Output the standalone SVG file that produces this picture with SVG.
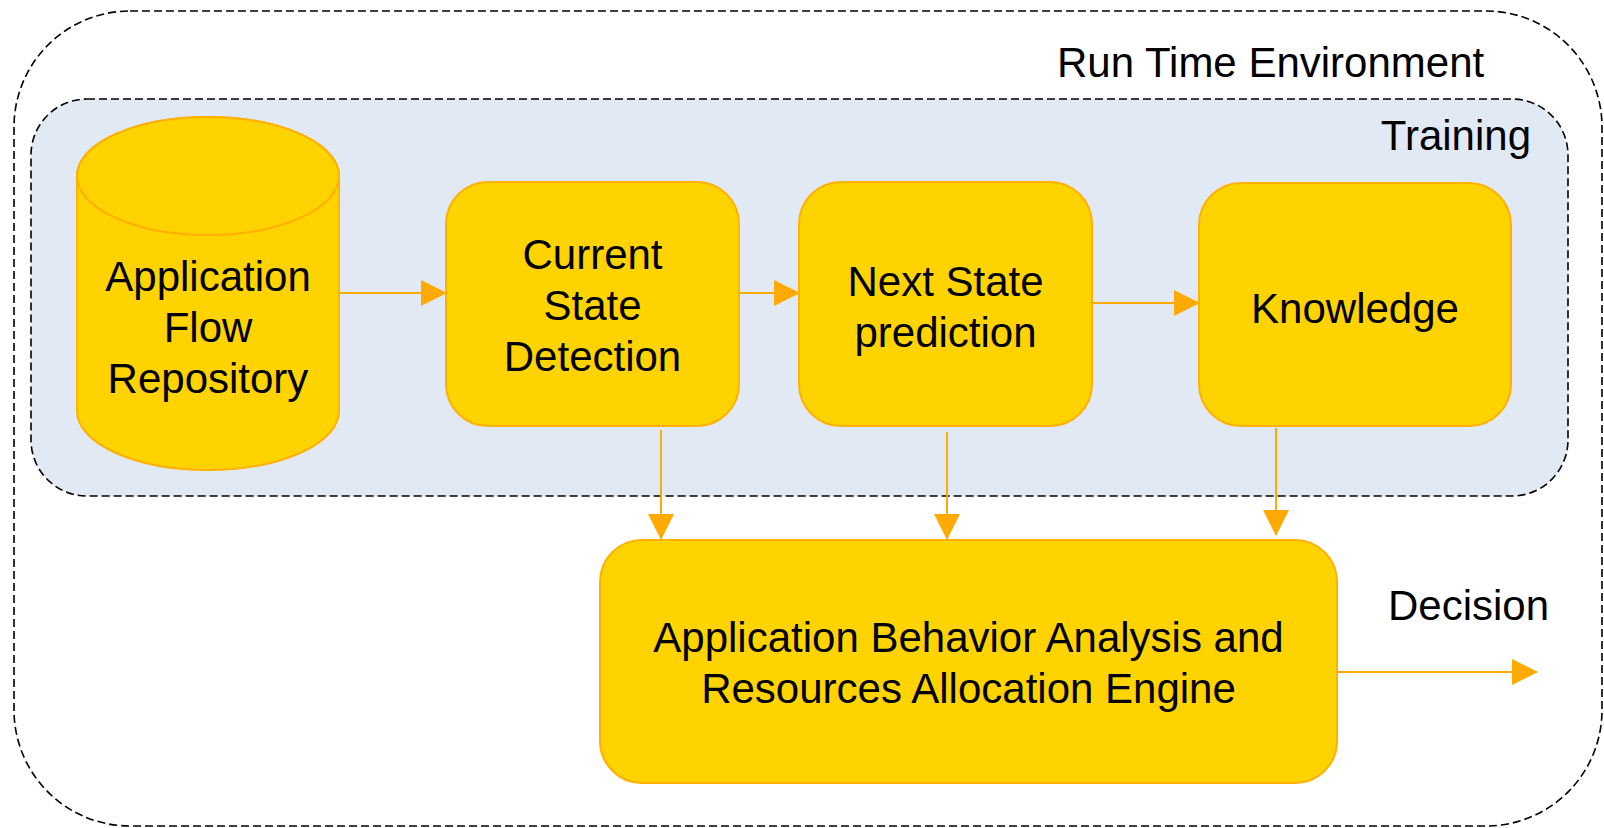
<svg xmlns="http://www.w3.org/2000/svg" width="1604" height="828" viewBox="0 0 1604 828">
  <style>
    .lbl { font-family: "Liberation Sans", Arial, sans-serif; font-size: 42px; fill: #000; }
    .mid { text-anchor: middle; }
    .node { fill: #FFD300; stroke: #FFB000; stroke-width: 2; }
    .frame { fill: none; stroke: #000; stroke-width: 1.6; stroke-dasharray: 8 4; }
    .link { fill: none; stroke: #FFAA00; stroke-width: 2; }
  </style>
  <defs>
    <marker id="arrow" markerUnits="userSpaceOnUse" markerWidth="26" markerHeight="26" viewBox="0 0 26 26" refX="25" refY="13" orient="auto">
      <path d="M0,0 L26,13 L0,26 Z" fill="#FFAA00"/>
    </marker>
  </defs>

  <rect width="1604" height="828" fill="#fff"/>

  <!-- Run time environment container -->
  <g id="runtime">
    <rect class="frame" x="14" y="11" width="1588" height="815" rx="116" ry="116"/>
    <text class="lbl" x="1057" y="77">Run Time Environment</text>
  </g>

  <!-- Training container -->
  <g id="training">
    <rect x="31" y="99" width="1537" height="397" rx="56" ry="56" fill="#E1E9F4" stroke="#000" stroke-width="1.6" stroke-dasharray="8 4"/>
    <text class="lbl" x="1531" y="150" text-anchor="end">Training</text>
  </g>

  <!-- Repository cylinder -->
  <g id="repository">
    <path class="node" d="M77,176 L77,411 A131,59 0 0 0 339,411 L339,176 A131,59 0 0 0 77,176 Z"/>
    <ellipse class="node" cx="208" cy="176" rx="131" ry="59"/>
    <text class="lbl mid" x="208" y="291">Application</text>
    <text class="lbl mid" x="208" y="342">Flow</text>
    <text class="lbl mid" x="208" y="393">Repository</text>
  </g>

  <g id="current-state">
    <rect class="node" x="446" y="182" width="293" height="244" rx="42" ry="42"/>
    <text class="lbl mid" x="592.5" y="269">Current</text>
    <text class="lbl mid" x="592.5" y="320">State</text>
    <text class="lbl mid" x="592.5" y="371">Detection</text>
  </g>

  <g id="next-state">
    <rect class="node" x="799" y="182" width="293" height="244" rx="42" ry="42"/>
    <text class="lbl mid" x="945.5" y="296">Next State</text>
    <text class="lbl mid" x="945.5" y="347">prediction</text>
  </g>

  <g id="knowledge">
    <rect class="node" x="1199" y="183" width="312" height="243" rx="42" ry="42"/>
    <text class="lbl mid" x="1355" y="323">Knowledge</text>
  </g>

  <g id="engine">
    <rect class="node" x="600" y="540" width="737" height="243" rx="42" ry="42"/>
    <text class="lbl mid" x="968.5" y="652">Application Behavior Analysis and</text>
    <text class="lbl mid" x="968.5" y="703">Resources Allocation Engine</text>
  </g>

  <text id="decision-label" class="lbl" x="1388" y="620">Decision</text>

  <!-- Connectors -->
  <g id="connectors">
    <line class="link" x1="339" y1="293" x2="446" y2="293" marker-end="url(#arrow)"/>
    <line class="link" x1="739" y1="293" x2="799" y2="293" marker-end="url(#arrow)"/>
    <line class="link" x1="1092" y1="303" x2="1199" y2="303" marker-end="url(#arrow)"/>
    <line class="link" x1="661" y1="430" x2="661" y2="539" marker-end="url(#arrow)"/>
    <line class="link" x1="947" y1="432" x2="947" y2="539" marker-end="url(#arrow)"/>
    <line class="link" x1="1276" y1="428" x2="1276" y2="535" marker-end="url(#arrow)"/>
    <line class="link" x1="1337" y1="672" x2="1537" y2="672" marker-end="url(#arrow)"/>
  </g>
</svg>
